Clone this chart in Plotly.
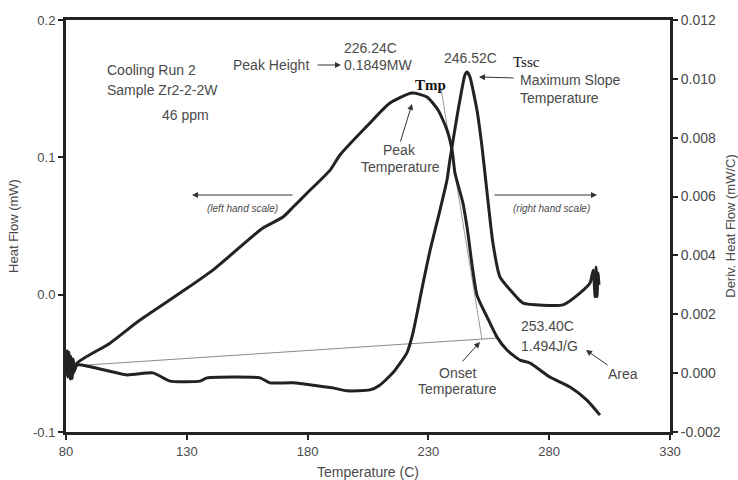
import plotly.graph_objects as go

# ---- data ----
# Heat flow (left scale, mW) vs temperature (C)
hf_temp = [80.3, 80.8, 81.2, 81.6, 82.0, 82.5, 83.0, 83.6, 84.6, 98.2, 110.6, 127.2, 140.8,
           156.2, 161.5, 169.8, 174.0, 179.8, 189.3, 193.4, 205.8, 214.1, 223.2, 229.4,
           234.0, 237.7, 239.8, 241.0, 244.3, 246.0, 250.1, 254.3, 258.4, 262.5, 267.9,
           272.1, 280.3, 288.6, 295.6, 301.0]
hf_vals = [-0.048, -0.060, -0.042, -0.058, -0.045, -0.061, -0.047, -0.055, -0.0498, -0.0353,
           -0.0185, 0.0012, 0.0179, 0.0410, 0.0485, 0.0565, 0.0638, 0.0740, 0.0907, 0.1017,
           0.1250, 0.1395, 0.1468, 0.1439, 0.1345, 0.1199, 0.1053, 0.0886, 0.0667, 0.0492,
           -0.0003, -0.0163, -0.0309, -0.0403, -0.0476, -0.0498, -0.0600, -0.0673, -0.0768,
           -0.0877]

# Derivative heat flow (right scale, mW/C) vs temperature (C)
dhf_temp = [80.3, 80.8, 81.3, 81.8, 82.4, 83.0, 84.6, 105.2, 116.0, 123.0, 135.5, 138.4,
            160.3, 164.4, 174.0, 190.5, 196.3, 205.8, 210.0, 215.3, 221.1, 223.6, 227.8,
            230.7, 234.8, 237.7, 238.9, 242.3, 245.1, 246.0, 247.2, 250.1, 252.2, 254.3,
            256.7, 259.6, 265.0, 269.2, 285.7, 292.7, 296.9, 298.2, 299.0, 299.4, 299.8,
            300.2, 300.6]
dhf_vals = [0.0008, -0.0001, 0.0006, -0.0002, 0.0005, 0.0000, 0.00028, -0.00006, 0.00001,
            -0.00027, -0.00027, -0.00016, -0.00016, -0.00033, -0.00033, -0.0005, -0.0006,
            -0.00057, -0.0004, 0.00001, 0.00069, 0.00136, 0.00306, 0.00418, 0.00554, 0.00656,
            0.00724, 0.00894, 0.01013, 0.01023, 0.01006, 0.00894, 0.00768, 0.00612, 0.00442,
            0.00327, 0.00272, 0.00238, 0.00232, 0.00272, 0.00306, 0.0035, 0.00259, 0.0036,
            0.0026, 0.0034, 0.0030]

# Baseline (left scale) and Tmp construction line (left scale)
base_temp = [81.7, 258.4]
base_vals = [-0.052, -0.0316]
tmp_temp = [235.2, 252.2]
tmp_vals = [0.1505, -0.033]

x_ticks = [80, 130, 180, 230, 280, 330]
y1_ticks = [-0.1, 0.0, 0.1, 0.2]
y1_text = ["-0.1", "0.0", "0.1", "0.2"]
y2_ticks = [-0.002, 0.0, 0.002, 0.004, 0.006, 0.008, 0.010, 0.012]
y2_text = ["-0.002", "0.000", "0.002", "0.004", "0.006", "0.008", "0.010", "0.012"]

# ---- figure ----
W, H = 738, 480
L, R, T, B = 66, 670, 20, 432

def px(x):
    return (x - L) / (R - L)

def py(y):
    return 1 - (y - T) / (B - T)

INK = "#222222"
TXT = "#4a4a4a"
FONT = "Liberation Sans, Arial, sans-serif"
FS = 14

fig = go.Figure()
fig.add_trace(go.Scatter(x=base_temp, y=base_vals, mode="lines",
                         line=dict(color="#8a8a8a", width=1), yaxis="y", showlegend=False))
fig.add_trace(go.Scatter(x=tmp_temp, y=tmp_vals, mode="lines",
                         line=dict(color="#9a9a9a", width=1), yaxis="y", showlegend=False))
fig.add_trace(go.Scatter(x=hf_temp, y=hf_vals, mode="lines",
                         line=dict(color=INK, width=3, shape="spline", smoothing=0.6),
                         yaxis="y", showlegend=False))
fig.add_trace(go.Scatter(x=dhf_temp, y=dhf_vals, mode="lines",
                         line=dict(color=INK, width=3, shape="spline", smoothing=0.5),
                         yaxis="y2", showlegend=False))

anns = []

def text(x, y, s, size=FS, color=TXT, anchor="left", family=FONT):
    anns.append(dict(xref="paper", yref="paper", x=px(x), y=py(y), text=s, showarrow=False,
                     xanchor=anchor, yanchor="middle",
                     font=dict(family=family, size=size, color=color)))

def arrow(hx, hy, tx, ty, width=1, color="#333333"):
    anns.append(dict(xref="paper", yref="paper", x=px(hx), y=py(hy), text="",
                     showarrow=True, axref="pixel", ayref="pixel", ax=tx - hx, ay=ty - hy,
                     arrowhead=2, arrowsize=1.2, arrowwidth=width, arrowcolor=color))

text(105, 70, "Cooling Run 2")
text(105, 90, "Sample Zr2-2-2W")
text(185, 115, "46 ppm", anchor="center")
text(370, 48, "226.24C", anchor="center")
text(231, 65, "Peak Height")
arrow(341, 65, 316, 65)
text(342, 65, "0.1849MW")
text(470, 58, "246.52C", anchor="center")
text(430, 85, "<b>Tmp</b>", size=15, color="#111111", anchor="center",
     family="Liberation Serif, Times New Roman, serif")
text(526, 62, "Tssc", size=15, color="#111111", anchor="center",
     family="Liberation Serif, Times New Roman, serif")
arrow(479, 77, 515, 78)
text(518, 80, "Maximum Slope")
text(518, 98, "Temperature")
text(399, 150, "Peak", anchor="center")
text(400, 167, "Temperature", anchor="center")
arrow(412, 104, 400, 143)
arrow(192, 195, 294, 195)
text(242, 208, "<i>(left hand scale)</i>", size=10, anchor="center")
arrow(597, 195, 493, 195)
text(551, 208, "<i>(right hand scale)</i>", size=10, anchor="center")
text(519, 326, "253.40C")
text(519, 346, "1.494J/G")
text(623, 374, "Area", anchor="center")
arrow(586, 350, 609, 366)
text(457, 373, "Onset", anchor="center")
text(457, 389, "Temperature", anchor="center")
arrow(480, 342, 461, 363)

axis_common = dict(showgrid=False, zeroline=False, showline=True, linecolor=INK,
                   linewidth=3, ticks="outside", ticklen=5, tickwidth=2, tickcolor=INK,
                   automargin=False)

fig.update_layout(
    width=W, height=H,
    margin=dict(l=L, r=W - R, t=T, b=H - B),
    paper_bgcolor="white", plot_bgcolor="white",
    xaxis=dict(range=[80, 330], tickvals=x_ticks, mirror=True,
               tickfont=dict(family=FONT, size=13, color=TXT),
               title=dict(text="Temperature (C)", standoff=10,
                          font=dict(family=FONT, size=14, color=TXT)),
               **axis_common),
    yaxis=dict(range=[-0.1, 0.2], tickvals=y1_ticks, ticktext=y1_text,
               tickfont=dict(family=FONT, size=13, color=TXT),
               title=dict(text="Heat Flow (mW)", standoff=12,
                          font=dict(family=FONT, size=13, color=TXT)),
               **axis_common),
    yaxis2=dict(range=[-0.002, 0.012], tickvals=y2_ticks, ticktext=y2_text,
                overlaying="y", side="right",
                tickfont=dict(family=FONT, size=14, color=TXT),
                title=dict(text="Deriv. Heat Flow (mW/C)", standoff=12,
                           font=dict(family=FONT, size=13, color=TXT)),
                **axis_common),
    annotations=anns,
)

fig.write_html("out.html")
